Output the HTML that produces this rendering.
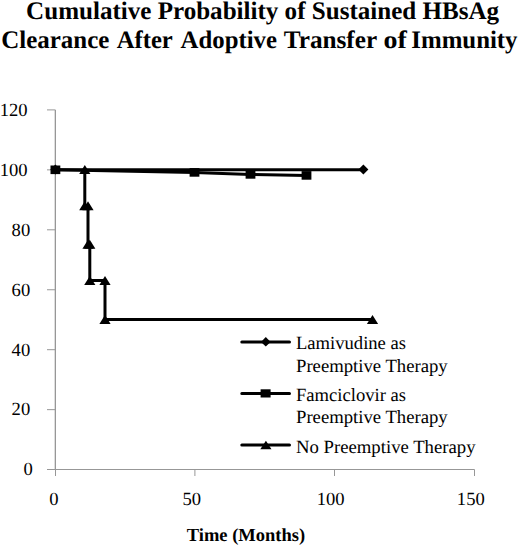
<!DOCTYPE html>
<html><head><meta charset="utf-8">
<style>
html,body{margin:0;padding:0;background:#fff;}
body{width:520px;height:546px;overflow:hidden;}
svg{display:block;}
text{font-family:"Liberation Serif",serif;fill:#000;text-rendering:geometricPrecision;}
.t{font-weight:bold;font-size:25.2px;}
.lab{font-size:18.6px;}
.leg{font-size:18.6px;}
.ax{stroke:#979797;stroke-width:1;fill:none;}
.ser{stroke:#000;stroke-width:3;fill:none;stroke-linejoin:miter;}
</style></head>
<body>
<svg width="520" height="546" viewBox="0 0 520 546">
<rect width="520" height="546" fill="#fff"/>
<text class="t" x="262.6" y="19" text-anchor="middle" textLength="473" lengthAdjust="spacingAndGlyphs">Cumulative Probability of Sustained HBsAg</text>
<g class="t"><text x="1.31" y="48" textLength="108.0" lengthAdjust="spacingAndGlyphs">Clearance</text><text x="116.7" y="48" textLength="56.12" lengthAdjust="spacingAndGlyphs">After</text><text x="180.6" y="48" textLength="96.35" lengthAdjust="spacingAndGlyphs">Adoptive</text><text x="283.75" y="48" textLength="93.42" lengthAdjust="spacingAndGlyphs">Transfer</text><text x="383.49" y="48" textLength="23.29" lengthAdjust="spacingAndGlyphs">of</text><text x="411.31" y="48" textLength="106.24" lengthAdjust="spacingAndGlyphs">Immunity</text></g>

<!-- axes -->
<path d="M54.5 110V469" stroke="#dedede" stroke-width="1"/>
<path class="ax" d="M55.5 110V476M47 109.9H55.5M47 169.85H55M47 229.8H55M47 289.75H55M47 349.7H55M47 409.65H55M47 469.5H474.5V476M194.9 469.5V476M334.5 469.5V476"/>

<!-- y labels -->
<g class="lab" text-anchor="end">
<text x="27.6" y="116.3">120</text>
<text x="27.6" y="176.1">100</text>
<text x="30.2" y="235.9">80</text>
<text x="30.2" y="295.7">60</text>
<text x="30.2" y="355.5">40</text>
<text x="30.2" y="415.3">20</text>
<text x="32.8" y="475.3">0</text>
</g>
<g class="lab" text-anchor="middle">
<text x="54" y="504.9">0</text>
<text x="191.8" y="504.9">50</text>
<text x="330.6" y="504.9">100</text>
<text x="470.8" y="504.9">150</text>
</g>
<text class="t" style="font-size:18.5px" x="246" y="541" text-anchor="middle">Time (Months)</text>

<!-- series: lamivudine -->
<path class="ser" d="M55.4 169.7H363.4"/>
<g fill="#000"><path d="M55.4 164.6L60.4 169.6L55.4 174.6L50.4 169.6Z"/><path d="M363.4 164.6L368.4 169.6L363.4 174.6L358.4 169.6Z"/></g>
<!-- famciclovir -->
<path class="ser" d="M55.4 169.7L194.5 172.4L250.5 174.4L306.5 175.4"/>
<g fill="#000"><rect x="50.50" y="165.50" width="9.8" height="8.6"/><rect x="189.60" y="168.10" width="9.8" height="8.6"/><rect x="245.60" y="170.10" width="9.8" height="8.6"/><rect x="301.60" y="171.10" width="9.8" height="8.6"/></g>
<!-- no preemptive -->
<path class="ser" d="M84.8 169.7V205.8H88V244.3H89.8V280.5H105V319.6H372.5"/>
<g fill="#000"><path d="M84.8 165.1L90.4 174.0H79.2Z"/><path d="M84.8 201.3L90.4 210.2H79.2Z"/><path d="M88 201.3L93.6 210.2H82.4Z"/><path d="M88 239.8L93.6 248.7H82.4Z"/><path d="M89.8 239.8L95.4 248.7H84.2Z"/><path d="M89.8 276.0L95.4 284.9H84.2Z"/><path d="M105 276.0L110.6 284.9H99.4Z"/><path d="M105 315.1L110.6 324.0H99.4Z"/><path d="M372.5 315.1L378.1 324.0H366.9Z"/></g>

<!-- legend -->
<path class="ser" style="stroke-linecap:round" d="M241.8 341.9H289.5M241.8 393.4H289.5M241.8 445H289.5"/>
<path d="M265.8 337L270.6 341.9L265.8 346.6L261 341.9Z" fill="#000"/>
<rect x="260.6" y="389.3" width="10" height="8.2" fill="#000"/>
<path d="M265.9 440.8L271.5 449.2H260.3Z" fill="#000"/>
<g class="leg">
<text x="296" y="349.2">Lamivudine as</text>
<text x="296" y="371.8" textLength="151.7" lengthAdjust="spacingAndGlyphs">Preemptive Therapy</text>
<text x="296" y="400.8">Famciclovir as</text>
<text x="296" y="423" textLength="151.7" lengthAdjust="spacingAndGlyphs">Preemptive Therapy</text>
<text x="296" y="452.9" textLength="179.5" lengthAdjust="spacingAndGlyphs">No Preemptive Therapy</text>
</g>
</svg>
</body></html>
